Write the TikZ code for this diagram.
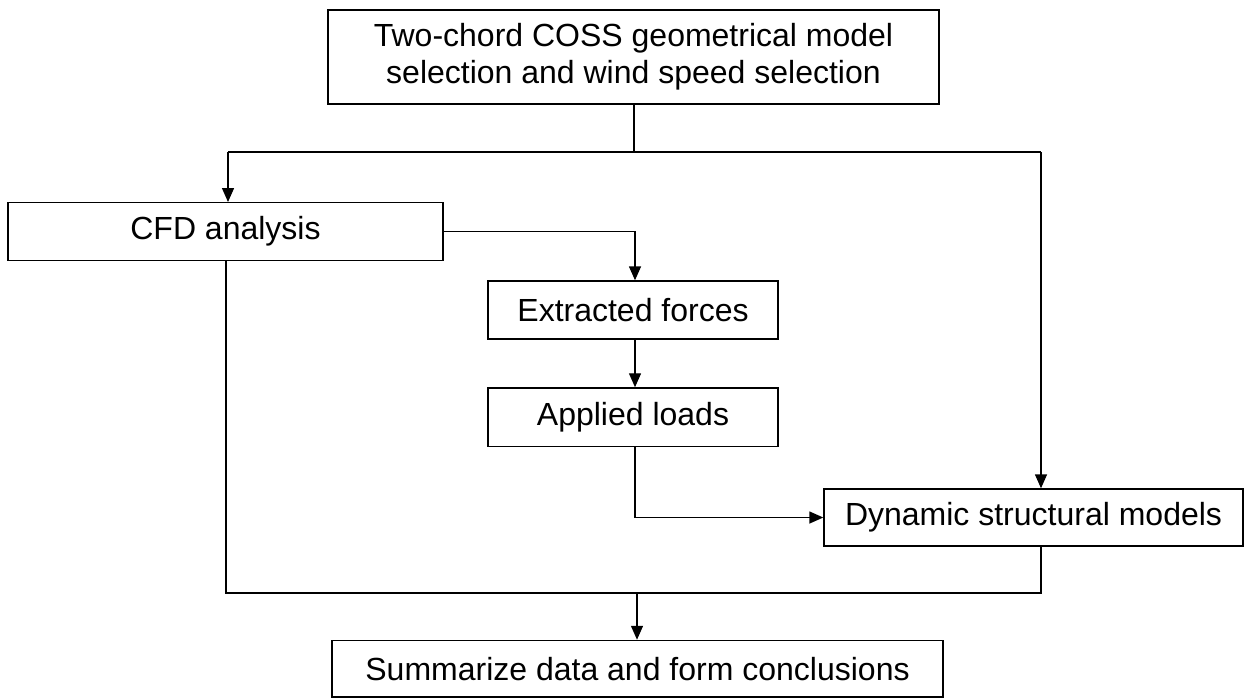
\documentclass[tikz,border=0pt]{standalone}
\usepackage{fontspec}
\setmainfont{Liberation Sans}
\usetikzlibrary{arrows.meta,calc}
\begin{document}
\begin{tikzpicture}[x=1pt,y=-1pt,
  box/.style={draw,line width=1.4pt,inner sep=0pt,align=center,font=\fontsize{32}{37}\selectfont},
  link/.style={line width=1.4pt},
  arr/.style={link,-{Triangle[length=14pt,width=12pt]}}]
\useasboundingbox (0,0) rectangle (1246,698);
% process boxes
\node[box,minimum width=611pt,minimum height=94pt] (top) at (633.5,57)
  {Two-chord COSS geometrical model\\selection and wind speed selection};
\node[box,minimum width=435pt,minimum height=58pt] (cfd) at (225.5,231.7) {CFD analysis};
\node[box,minimum width=290pt,minimum height=58pt] (ext) at (633,310) {Extracted forces};
\node[box,minimum width=290pt,minimum height=58.7pt] (app) at (633,417.3) {Applied loads};
\node[box,minimum width=419pt,minimum height=57pt] (dyn) at (1033.5,517.5) {Dynamic structural models};
\node[box,minimum width=611pt,minimum height=56.5pt] (sum) at (637.5,668.7) {Summarize data and form conclusions};
% junction points
\coordinate (split) at (634,152);
\coordinate (splitL) at (228,152);
\coordinate (splitR) at (1041,152);
\coordinate (mid) at (635,0);
\coordinate (join) at (637,593);
\coordinate (joinL) at (226,593);
\coordinate (joinR) at (1041,593);
% connectors
\draw[link] (top.south -| split) -- (split);
\draw[link] (splitL) -- (splitR);
\draw[arr] (splitL) -- (splitL |- cfd.north);
\draw[arr] (splitR) -- (splitR |- dyn.north);
\draw[arr] (cfd.east) -| (ext.north -| mid);
\draw[arr] (ext.south -| mid) -- (app.north -| mid);
\draw[arr] (app.south -| mid) |- (dyn.west);
\draw[link] (cfd.south -| joinL) -- (joinL) -- (joinR) -- (dyn.south -| joinR);
\draw[arr] (join) -- (sum.north -| join);
\end{tikzpicture}
\end{document}
